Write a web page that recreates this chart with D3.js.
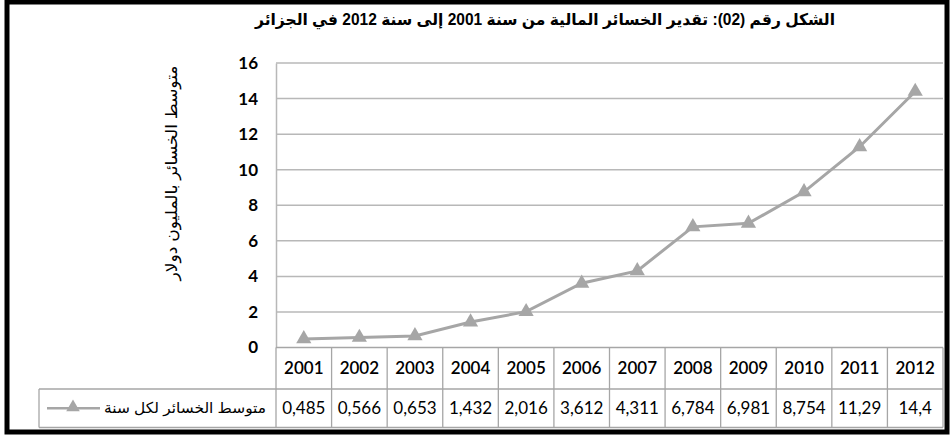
<!DOCTYPE html>
<html>
<head>
<meta charset="utf-8">
<script src="https://cdn.jsdelivr.net/npm/d3@7"></script>
<style>
  body { margin: 0; background: #fff; }
  svg { display: block; }
</style>
</head>
<body>
<script>
// waarden uit de figuur
const years = ['2001', '2002', '2003', '2004', '2005', '2006', '2007', '2008', '2009', '2010', '2011', '2012'];
const losses = [0.485, 0.566, 0.653, 1.432, 2.016, 3.612, 4.311, 6.784, 6.981, 8.754, 11.29, 14.4];
const lossLabels = ['0,485', '0,566', '0,653', '1,432', '2,016', '3,612', '4,311', '6,784', '6,981', '8,754', '11,29', '14,4'];
const yTicks = [0, 2, 4, 6, 8, 10, 12, 14, 16];

const titleText = 'الشكل رقم (02): تقدير الخسائر المالية من سنة 2001 إلى سنة 2012 في الجزائر';
const yLabel = 'متوسط الخسائر بالمليون دولار';
const seriesName = 'متوسط الخسائر لكل سنة';

const width = 950;
const height = 435;
const plot = { left: 276, right: 943, top: 63, bottom: 347.5 };
const tableRows = { y0: 347.5, y1: 389, y2: 427.5 };
const legendLeft = 39;

const grey = '#a6a6a6';
const gridColor = '#b8b8b8';
const numFont = 'Lato, "DejaVu Sans", sans-serif';
const arFont = 'Arial, "DejaVu Sans", sans-serif';

const svg = d3.select('body').append('svg')
    .attr('width', width)
    .attr('height', height);

// buitenrand
svg.append('rect')
    .attr('x', 7).attr('y', 2)
    .attr('width', width - 10).attr('height', height - 5)
    .attr('fill', '#fff')
    .attr('stroke', '#000')
    .attr('stroke-width', 5);

// schalen
const xScale = d3.scaleBand()
    .domain(years)
    .range([plot.left, plot.right]);

const yScale = d3.scaleLinear()
    .domain([0, 16])
    .range([plot.bottom, plot.top]);

// titel
svg.append('text')
    .attr('x', 545).attr('y', 25)
    .attr('text-anchor', 'middle')
    .attr('direction', 'rtl')
    .style('font-family', arFont)
    .style('font-weight', 'bold')
    .style('font-size', '16px')
    .attr('textLength', 580)
    .attr('lengthAdjust', 'spacingAndGlyphs')
    .text(titleText);

// grid lijnen
svg.append('g')
    .selectAll('line')
    .data(yTicks.filter(d => d > 0))
    .join('line')
    .attr('x1', plot.left).attr('x2', plot.right)
    .attr('y1', d => yScale(d)).attr('y2', d => yScale(d))
    .attr('stroke', gridColor)
    .attr('stroke-width', 1.5);

// y-as
const yAxis = svg.append('g')
    .attr('transform', `translate(${plot.left},0)`)
    .call(d3.axisLeft(yScale).tickValues(yTicks).tickSize(0).tickPadding(18));
yAxis.select('.domain').attr('stroke', gridColor).attr('stroke-width', 1.5);
yAxis.selectAll('text')
    .style('font-family', numFont)
    .style('font-weight', 'bold')
    .style('font-size', '17px')
    .attr('fill', '#000');

// y-as titel
svg.append('text')
    .attr('transform', 'translate(177,173) rotate(-90)')
    .attr('text-anchor', 'middle')
    .attr('direction', 'rtl')
    .style('font-family', arFont)
    .style('font-size', '16px')
    .attr('textLength', 215)
    .attr('lengthAdjust', 'spacingAndGlyphs')
    .text(yLabel);

// tabel onder de grafiek
const table = svg.append('g');
const lineStyle = sel => sel.attr('stroke', grey).attr('stroke-width', 1.3).attr('fill', 'none');

table.append('line')
    .attr('x1', plot.left).attr('x2', plot.right)
    .attr('y1', tableRows.y0).attr('y2', tableRows.y0)
    .call(lineStyle);
table.append('line')
    .attr('x1', legendLeft).attr('x2', plot.right)
    .attr('y1', tableRows.y1).attr('y2', tableRows.y1)
    .call(lineStyle);
table.append('line')
    .attr('x1', legendLeft).attr('x2', plot.right)
    .attr('y1', tableRows.y2).attr('y2', tableRows.y2)
    .call(lineStyle);
table.append('line')
    .attr('x1', legendLeft).attr('x2', legendLeft)
    .attr('y1', tableRows.y1).attr('y2', tableRows.y2)
    .call(lineStyle);
table.append('line')
    .attr('x1', plot.left).attr('x2', plot.left)
    .attr('y1', tableRows.y0).attr('y2', tableRows.y2)
    .call(lineStyle);

table.selectAll('.sep')
    .data(years)
    .join('line')
    .attr('class', 'sep')
    .attr('x1', d => xScale(d) + xScale.bandwidth())
    .attr('x2', d => xScale(d) + xScale.bandwidth())
    .attr('y1', tableRows.y0).attr('y2', tableRows.y2)
    .call(lineStyle);

table.selectAll('.year')
    .data(years)
    .join('text')
    .attr('class', 'year')
    .attr('x', d => xScale(d) + xScale.bandwidth() / 2)
    .attr('y', (tableRows.y0 + tableRows.y1) / 2 + 6)
    .attr('text-anchor', 'middle')
    .style('font-family', numFont)
    .style('font-size', '17px')
    .style('font-weight', 600)
    .text(d => d);

table.selectAll('.val')
    .data(lossLabels)
    .join('text')
    .attr('class', 'val')
    .attr('x', (d, i) => xScale(years[i]) + xScale.bandwidth() / 2)
    .attr('y', (tableRows.y1 + tableRows.y2) / 2 + 6)
    .attr('text-anchor', 'middle')
    .style('font-family', numFont)
    .style('font-size', '17px')
    .text(d => d);

// legenda in de tabel
const legY = (tableRows.y1 + tableRows.y2) / 2;
table.append('line')
    .attr('x1', 47).attr('x2', 100)
    .attr('y1', legY).attr('y2', legY)
    .attr('stroke', grey).attr('stroke-width', 2.5);
table.append('path')
    .attr('d', d3.symbol(d3.symbolTriangle, 80)())
    .attr('transform', `translate(73,${legY - 1})`)
    .attr('fill', grey);
table.append('text')
    .attr('x', 104).attr('y', legY + 5)
    .attr('text-anchor', 'start')
    .style('font-family', arFont)
    .style('font-size', '15px')
    .attr('textLength', 162)
    .attr('lengthAdjust', 'spacingAndGlyphs')
    .text(seriesName);

// de lijn
const data = years.map((y, i) => ({ year: y, value: losses[i] }));
const line = d3.line()
    .x(d => xScale(d.year) + xScale.bandwidth() / 2)
    .y(d => yScale(d.value));

svg.append('path')
    .datum(data)
    .attr('d', line)
    .attr('fill', 'none')
    .attr('stroke', grey)
    .attr('stroke-width', 3);

svg.selectAll('.marker')
    .data(data)
    .join('path')
    .attr('class', 'marker')
    .attr('d', d3.symbol(d3.symbolTriangle, 100)())
    .attr('transform', d => `translate(${xScale(d.year) + xScale.bandwidth() / 2},${yScale(d.value)})`)
    .attr('fill', grey);
</script>
</body>
</html>
